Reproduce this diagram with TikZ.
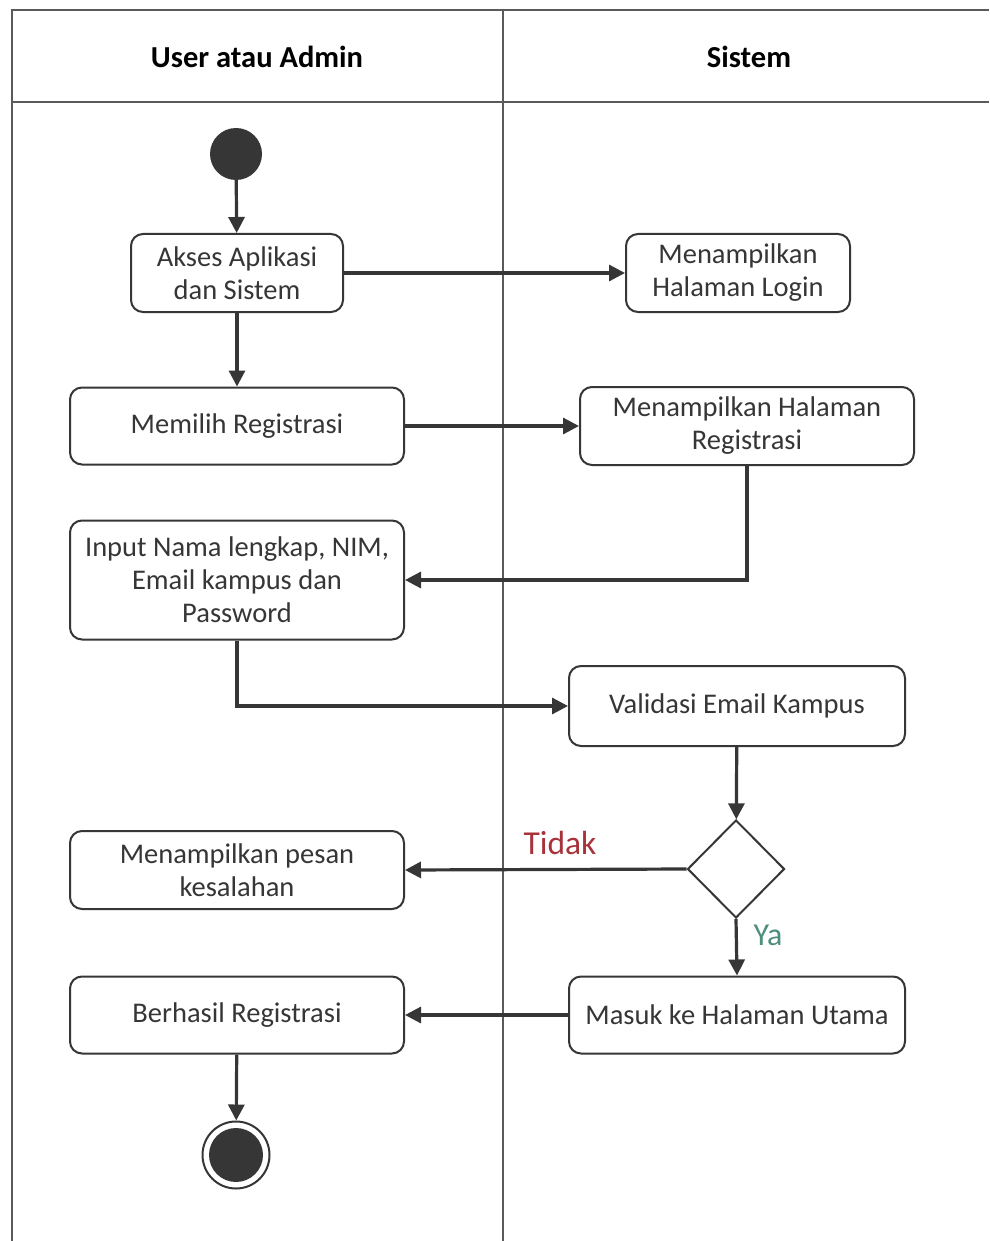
\documentclass[tikz,border=0pt]{standalone}
\usepackage{fontspec}
\setmainfont{Carlito}
\usetikzlibrary{arrows.meta,shapes.geometric}
\definecolor{ink}{HTML}{363636}
\definecolor{frame}{HTML}{5A5A5A}
\definecolor{nored}{HTML}{A8323A}
\definecolor{yagreen}{HTML}{4E8E7C}
\begin{document}
\begin{tikzpicture}[x=1pt,y=-1pt,
  lane/.style={draw=frame,line width=2.6pt},
  act/.style={draw=ink,line width=2pt,rounded corners=12pt,fill=white,
    text=ink,align=center,inner sep=0pt,
    font=\fontsize{28.5}{33}\selectfont},
  flow/.style={draw=ink,line width=3.2pt,-{Triangle[length=16pt,width=16pt]}},
  head/.style={text=black,font=\fontsize{30.5}{36}\selectfont\bfseries}]
\useasboundingbox (0,0) rectangle (989,1241);
\fill[white] (0,0) rectangle (989,1241);

% swimlane frame
\draw[lane] (989,10) -- (12,10) -- (12,1241);
\draw[lane] (12,102) -- (989,102);
\draw[lane] (503,10) -- (503,1241);
\node[head] (h1) at (257,57) {User atau Admin};
\node[head] (h2) at (749,57) {Sistem};

% start
\node[circle,fill=ink,minimum size=52pt,inner sep=0pt] (start) at (236,154) {};

% activities
\node[act,minimum width=212pt,minimum height=78pt] (akses) at (237,273) {Akses Aplikasi\\dan Sistem};
\node[act,minimum width=224pt,minimum height=78pt] (login) at (738,273) {Menampilkan\\Halaman Login};
\node[act,minimum width=334pt,minimum height=77pt] (pilih) at (237,426) {Memilih Registrasi};
\node[act,minimum width=334pt,minimum height=78pt] (halreg) at (747,426) {Menampilkan Halaman\\Registrasi};
\node[act,minimum width=334pt,minimum height=119pt] (input) at (237,580) {Input Nama lengkap, NIM,\\Email kampus dan\\Password};
\node[act,minimum width=336pt,minimum height=80pt] (valid) at (737,706) {Validasi Email Kampus};
\node[diamond,draw=ink,line width=2pt,fill=white,minimum width=97pt,minimum height=98pt,inner sep=0pt] (cek) at (736,869) {};
\node[act,minimum width=334pt,minimum height=78pt] (pesan) at (237,870) {Menampilkan pesan\\kesalahan};
\node[act,minimum width=334pt,minimum height=77pt] (sukses) at (237,1015) {Berhasil Registrasi};
\node[act,minimum width=336pt,minimum height=77pt] (utama) at (737,1015) {Masuk ke Halaman Utama};

% end
\node[circle,draw=ink,line width=2pt,fill=white,minimum size=67pt,inner sep=0pt] (end) at (236,1155) {};
\node[circle,fill=ink,minimum size=54pt,inner sep=0pt] (endin) at (end.center) {};

% flows
\draw[flow] (start) -- (akses);
\draw[flow] (akses) -- (login);
\draw[flow] (akses) -- (pilih);
\draw[flow] (pilih) -- (halreg);
\draw[flow] (halreg.south) |- (input.east);
\draw[flow] (input.south) |- (valid.west);
\draw[flow] (valid) -- (cek);
\draw[flow] (cek.west) -- (pesan.east);
\draw[flow] (cek.south) -- (utama.north);
\draw[flow] (utama) -- (sukses);
\draw[flow] (sukses) -- (end);

% guard labels
\node[text=nored,font=\fontsize{33.5}{38}\selectfont] (tidak) at (560,843) {Tidak};
\node[text=yagreen,font=\fontsize{32}{36}\selectfont] (ya) at (768,935) {Ya};
\end{tikzpicture}
\end{document}
